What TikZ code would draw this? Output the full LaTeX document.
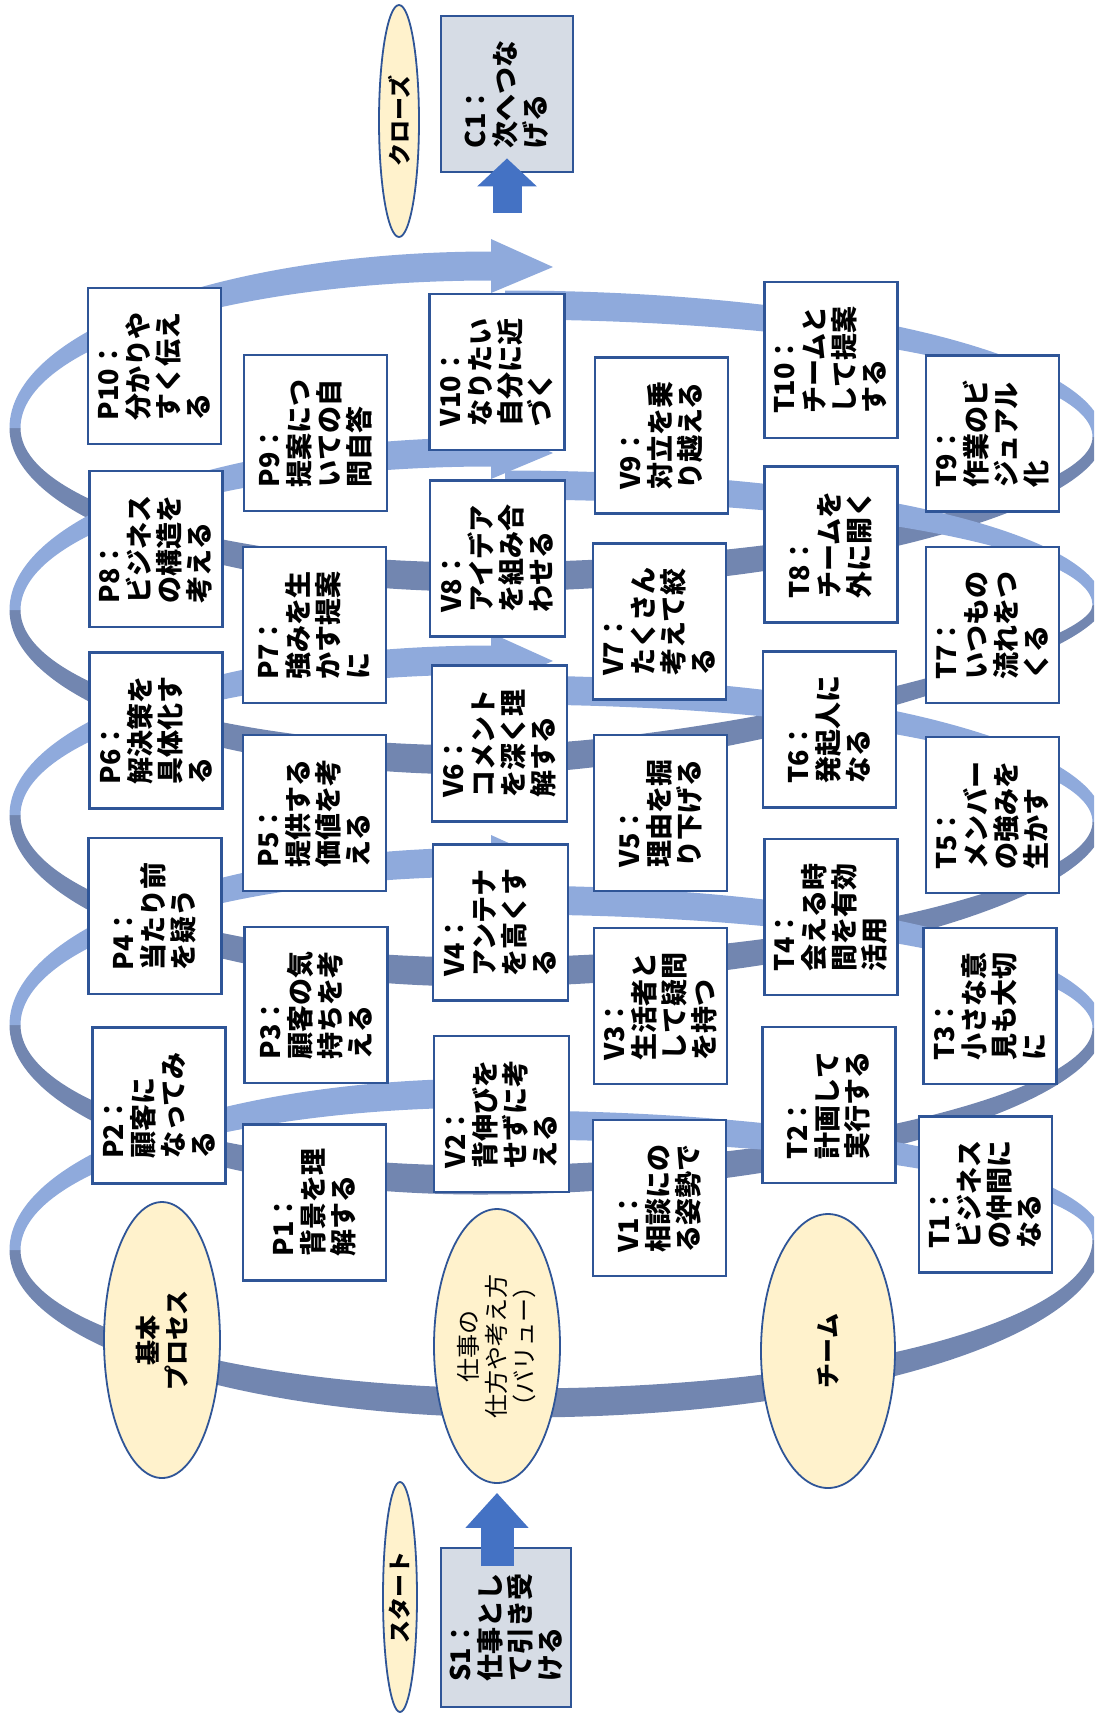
\documentclass[tikz,border=0pt]{standalone}
\usepackage{fontspec}
\setmainfont{Noto Sans CJK JP}
\usetikzlibrary{shapes.geometric,arrows.meta}
\definecolor{bdr}{RGB}{47,85,151}
\definecolor{bandfront}{RGB}{143,170,220}
\definecolor{bandback}{RGB}{114,134,176}
\definecolor{ovalfill}{RGB}{255,242,204}
\definecolor{grayfill}{RGB}{214,220,229}
\definecolor{arrowblue}{RGB}{68,114,196}

% quarter curves: vertical tangent -> horizontal tangent, and reverse
\newcommand\qvh[4]{.. controls (#1,{#2+0.5523*((#4)-(#2))}) and ({#3+0.5523*((#1)-(#3))},#4) .. (#3,#4)}
\newcommand\qhv[4]{.. controls ({#1+0.5523*((#3)-(#1))},#2) and (#3,{#4+0.5523*((#2)-(#4))}) .. (#3,#4)}
\newcommand\qvhk[6]{.. controls (#1,{#2+#5*((#4)-(#2))}) and ({#3+#6*((#1)-(#3))},#4) .. (#3,#4)}
\newcommand\qhvk[6]{.. controls ({#1+#5*((#3)-(#1))},#2) and (#3,{#4+#6*((#2)-(#4))}) .. (#3,#4)}
\def\bandA{5.5}
\def\bandH{14.5}

% back (dark) half of a ring: L(x,y) R(x,y) B(x,y), k at R, k at B (right quarter)
\newcommand\ringback[8]{%
 \pgfmathsetmacro\rox{#3+\bandA}\pgfmathsetmacro\rix{#3-\bandA}%
 \pgfmathsetmacro\lox{#1-\bandA}\pgfmathsetmacro\lix{#1+\bandA}%
 \pgfmathsetmacro\boy{#6+\bandH}\pgfmathsetmacro\biy{#6-\bandH}%
 \fill[backband] (\rox,#4) \qvhk{\rox}{#4}{#5}{\boy}{#7}{#8} \qhv{#5}{\boy}{\lox}{#2}
   -- (\lix,#2) \qvh{\lix}{#2}{#5}{\biy} \qhvk{#5}{\biy}{\rix}{#4}{#8}{#7} -- cycle;}

% front (light) half of a ring: L(x,y) R(x,y) E(x,y) end, S(x,y) start
\newcommand\ringfront[8]{%
 \pgfmathsetmacro\rox{#3+\bandA}\pgfmathsetmacro\rix{#3-\bandA}%
 \pgfmathsetmacro\lox{#1-\bandA}\pgfmathsetmacro\lix{#1+\bandA}%
 \pgfmathsetmacro\eoy{#6-\bandH}\pgfmathsetmacro\eiy{#6+\bandH}%
 \pgfmathsetmacro\soy{#8-\bandH}\pgfmathsetmacro\siy{#8+\bandH}%
 \pgfmathsetmacro\hta{#6-27}\pgfmathsetmacro\htb{#6+27}%
 \pgfmathsetmacro\htx{#5+62}\pgfmathsetmacro\hty{#6+1}%
 \fill[frontband] (\lox,#2) \qvh{\lox}{#2}{#5}{\eoy} -- (#5,\eiy) \qhv{#5}{\eiy}{\lix}{#2} -- cycle;
 \fill[frontband] (#7,\soy) \qhv{#7}{\soy}{\rox}{#4} -- (\rix,#4) \qvh{\rix}{#4}{#7}{\siy} -- cycle;
 \fill[frontband] (#5,\hta) -- (\htx,\hty) -- (#5,\htb) -- cycle;}

\newcommand\boxfont{\bfseries\fontsize{13.5pt}{15pt}\selectfont}
\newcommand\ovalfont{\bfseries\fontsize{12.5pt}{14.5pt}\selectfont}

\tikzset{
 backband/.style={fill=bandback},
 frontband/.style={fill=bandfront},
 card/.style={draw=bdr, line width=1.4pt, fill=white, rotate=90, inner sep=0pt,
   align=left, font=\boxfont, minimum width=78pt, minimum height=66.5pt},
 cardwide/.style={card, minimum height=71.5pt},
 cardv/.style={card, minimum height=67.5pt},
 graycard/.style={card, fill=grayfill},
 oval/.style={ellipse, draw=bdr, line width=0.9pt, fill=ovalfill, rotate=90,
   inner sep=0pt, align=center, font=\ovalfont},
 blockarrow/.style={draw=arrowblue, line width=16.5pt,
   -{Triangle[width=30.5pt,length=17.5pt]}},
}

\begin{document}
\begin{tikzpicture}[x=0.5pt,y=-0.5pt]
\useasboundingbox (0,0) rectangle (1094,1715);
\clip (0,0) rectangle (1094,1715);

% ---- spiral: back halves ----
\ringback{15}{1250}{1098}{1240}{520}{1403}{0.5523}{0.5523}
\ringback{15}{1025}{1098}{1028}{480}{1180}{0.5}{0.5}
\ringback{15}{815}{1098}{822}{480}{972}{0.5}{0.5}
\ringback{15}{610}{1098}{605}{480}{760}{0.32}{0.37}
\ringback{15}{428}{1098}{437}{480}{577}{0.5}{0.5}
% ---- spiral: front halves with arrow heads ----
\ringfront{15}{1250}{1098}{1240}{491}{1093}{505}{1125}
\ringfront{15}{1025}{1098}{1028}{491}{862}{505}{900}
\ringfront{15}{815}{1098}{822}{491}{660}{505}{690}
\ringfront{15}{610}{1098}{605}{491}{452}{505}{485}
\ringfront{15}{428}{1098}{437}{491}{266}{505}{305}

% ---- P column ----
\node[card] (P10) at (154.5,366) {P10：\\分かりや\\すく伝え\\る};
\node[card] (P8) at (156,549) {P8：\\ビジネス\\の構造を\\考える};
\node[card] (P6) at (156,730.5) {P6：\\解決策を\\具体化す\\る};
\node[card] (P4) at (155,916) {P4：\\当たり前\\を疑う};
\node[card] (P2) at (159,1105.5) {P2：\\顧客に\\なってみ\\る};
\node[cardwide] (P9) at (315.5,433) {P9：\\提案につ\\いての自\\問自答};
\node[cardwide] (P7) at (314.5,625) {P7：\\強みを生\\かす提案\\に};
\node[cardwide] (P5) at (314.5,813) {P5：\\提供する\\価値を考\\える};
\node[cardwide] (P3) at (316,1005) {P3：\\顧客の気\\持ちを考\\える};
\node[cardwide] (P1) at (314.5,1202.5) {P1：\\背景を理\\解する};
% ---- V column ----
\node[cardv] (V10) at (497,372) {V10：\\なりたい\\自分に近\\づく};
\node[cardv] (V8) at (497.5,558.5) {V8：\\アイデア\\を組み合\\わせる};
\node[cardv] (V6) at (499.5,743.5) {V6：\\コメント\\を深く理\\解する};
\node[cardv] (V4) at (500.5,922.5) {V4：\\アンテナ\\を高くす\\る};
\node[cardv] (V2) at (501.5,1114) {V2：\\背伸びを\\せずに考\\える};
\node[card] (V9) at (661.5,435.5) {V9：\\対立を乗\\り越える};
\node[card] (V7) at (659.5,621.5) {V7：\\たくさん\\考えて絞\\る};
\node[card] (V5) at (660.5,813) {V5：\\理由を掘\\り下げる};
\node[card] (V3) at (660.5,1006) {V3：\\生活者と\\して疑問\\を持つ};
\node[card] (V1) at (659.5,1198) {V1：\\相談にの\\る姿勢で};
% ---- T column ----
\node[card] (T10) at (831,360) {T10：\\チームと\\して提案\\する};
\node[card] (T8) at (831,544.5) {T8：\\チームを\\外に開く};
\node[card] (T6) at (829.5,729.5) {T6：\\発起人に\\なる};
\node[card] (T4) at (831,917) {T4：\\会える時\\間を有効\\活用};
\node[card] (T2) at (829,1105) {T2：\\計画して\\実行する};
\node[card] (T9) at (992.5,433.5) {T9：\\作業のビ\\ジュアル\\化};
\node[card] (T7) at (992.5,625) {T7：\\いつもの\\流れをつ\\くる};
\node[card] (T5) at (992.5,815) {T5：\\メンバー\\の強みを\\生かす};
\node[card] (T3) at (990,1006) {T3：\\小さな意\\見も大切\\に};
\node[card] (T1) at (985.5,1194.5) {T1：\\ビジネス\\の仲間に\\なる};

% ---- ovals ----
\node[oval, minimum width=138pt, minimum height=58pt] (kihon) at (162,1340) {基本\\プロセス};
\node[oval, minimum width=137pt, minimum height=63pt, font=\fontsize{12pt}{14pt}\selectfont] (value) at (497,1346) {仕事の\\仕方や考え方\\（バリュー）};
\node[oval, minimum width=137pt, minimum height=67pt] (team) at (828,1351) {チーム};
\node[oval, minimum width=116pt, minimum height=20pt, font=\bfseries\fontsize{11.5pt}{13pt}\selectfont] (close) at (399,121) {クローズ};
\node[oval, minimum width=115pt, minimum height=17pt, font=\bfseries\fontsize{11.5pt}{13pt}\selectfont] (start) at (400,1597) {スタート};

% ---- start / close boxes ----
\node[graycard, minimum width=79.5pt, minimum height=65pt] (S1) at (506,1627.5) {S1：\\仕事とし\\て引き受\\ける};
\node[graycard, minimum width=78pt, minimum height=66pt] (C1) at (507,94) {C1：\\次へつな\\げる};

% ---- block arrows ----
\coordinate (sa0) at (497,1566);
\draw[blockarrow, shorten >=4.5pt] (sa0) -- (value.west);
\coordinate (ca0) at (507,213);
\draw[draw=arrowblue, line width=14.5pt, -{Triangle[width=29pt,length=14pt]}, shorten >=-7.5pt] (ca0) -- (C1.west);
\end{tikzpicture}
\end{document}
